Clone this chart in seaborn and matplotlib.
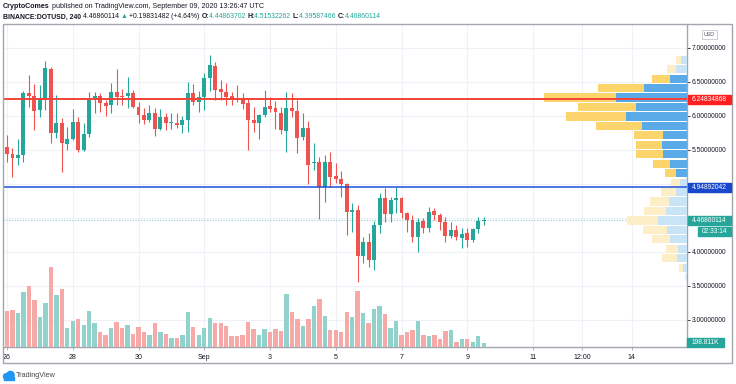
import numpy as np
import pandas as pd
import matplotlib
matplotlib.use("Agg")
import matplotlib.pyplot as plt
from matplotlib.patches import Rectangle, Ellipse
import seaborn as sns

# DOT/USD 4h candles, Aug 26 00:00 -> Sep 9 12:00 UTC
opens = [5.549, 5.441, 5.377, 5.426, 6.333, 6.299, 6.088, 6.250, 6.691, 5.745,
         5.892, 5.588, 5.662, 5.907, 5.500, 5.735, 6.260, 6.299, 6.186, 6.162,
         6.358, 6.299, 6.299, 6.333, 6.137, 6.010, 5.941, 6.049, 5.804, 5.980,
         5.892, 5.902, 5.872, 5.936, 6.343, 6.200, 6.279, 6.554, 6.740, 6.392,
         6.358, 6.294, 6.265, 6.250, 6.186, 5.936, 5.897, 6.015, 6.147, 6.113,
         6.049, 5.784, 6.123, 6.069, 5.696, 5.823, 5.304, 5.319, 4.956, 5.319,
         5.118, 5.068, 4.999, 4.593, 4.618, 3.941, 4.142, 3.882, 4.397, 4.789,
         4.554, 4.765, 4.789, 4.569, 4.471, 4.225, 4.456, 4.348, 4.603, 4.544,
         4.446, 4.235, 4.324, 4.201, 4.275, 4.176, 4.333, 4.449]
highs = [5.721, 5.525, 5.662, 6.368, 6.603, 6.466, 6.456, 6.814, 6.725, 6.309,
         5.966, 5.843, 6.103, 5.990, 5.892, 6.358, 6.358, 6.333, 6.235, 6.480,
         6.686, 6.397, 6.578, 6.382, 6.211, 6.123, 6.162, 6.113, 6.098, 6.039,
         6.039, 6.039, 6.000, 6.495, 6.470, 6.373, 6.637, 6.897, 6.799, 6.529,
         6.480, 6.358, 6.456, 6.333, 6.255, 6.137, 6.029, 6.382, 6.274, 6.225,
         6.137, 6.358, 6.343, 6.235, 6.039, 5.931, 5.598, 5.402, 5.426, 5.475,
         5.314, 5.196, 5.019, 4.716, 4.691, 4.216, 4.275, 4.456, 4.863, 4.936,
         4.814, 4.951, 4.814, 4.593, 4.544, 4.495, 4.495, 4.667, 4.642, 4.569,
         4.520, 4.446, 4.397, 4.348, 4.348, 4.348, 4.520, 4.515]
lows = [5.328, 5.108, 5.279, 5.328, 6.137, 5.794, 5.990, 6.088, 5.598, 5.672,
        5.181, 5.500, 5.647, 5.475, 5.490, 5.696, 6.039, 6.064, 6.000, 6.039,
        6.157, 6.157, 6.113, 6.113, 5.892, 5.882, 5.917, 5.706, 5.794, 5.794,
        5.804, 5.819, 5.745, 5.770, 6.162, 6.064, 6.088, 6.373, 6.235, 6.235,
        6.157, 6.162, 6.211, 6.103, 5.500, 5.770, 5.657, 5.980, 6.064, 5.804,
        5.730, 5.466, 5.990, 5.461, 5.647, 4.995, 5.206, 4.480, 4.740, 4.961,
        5.010, 4.804, 4.250, 4.299, 3.560, 3.833, 3.784, 3.735, 4.275, 4.446,
        4.446, 4.569, 4.495, 4.299, 4.152, 4.005, 4.275, 4.299, 4.471, 4.324,
        4.152, 4.201, 4.176, 4.054, 4.078, 4.152, 4.275, 4.396]
closes = [5.441, 5.377, 5.426, 6.333, 6.299, 6.078, 6.250, 6.701, 5.745, 5.892,
          5.598, 5.662, 5.907, 5.500, 5.735, 6.250, 6.299, 6.186, 6.152, 6.358,
          6.284, 6.279, 6.333, 6.137, 6.015, 5.941, 6.049, 5.804, 5.985, 5.892,
          5.912, 5.872, 5.936, 6.343, 6.201, 6.279, 6.554, 6.750, 6.382, 6.348,
          6.284, 6.255, 6.245, 6.176, 5.941, 5.897, 6.015, 6.137, 6.108, 6.054,
          5.794, 6.123, 6.069, 5.672, 5.823, 5.279, 5.319, 4.956, 5.319, 5.108,
          5.068, 4.999, 4.593, 4.618, 3.941, 4.142, 3.882, 4.397, 4.789, 4.554,
          4.765, 4.789, 4.578, 4.471, 4.225, 4.446, 4.348, 4.593, 4.544, 4.446,
          4.235, 4.324, 4.216, 4.265, 4.176, 4.333, 4.456, 4.469]
volumes_k = [1790, 1839, 1690, 2751, 3032, 2336, 1491, 2187, 3977, 2601,
             2867, 944, 1276, 1375, 1094, 1806, 1193, 746, 580, 944,
             1226, 928, 1077, 646, 994, 746, 580, 1193, 746, 630,
             464, 431, 580, 1740, 978, 580, 961, 1442, 1193, 1193,
             1027, 547, 547, 613, 1226, 911, 597, 878, 729, 895,
             795, 2618, 1723, 1375, 1044, 1392, 2022, 2403, 1524, 845,
             845, 746, 1723, 1475, 2800, 1690, 1193, 1889, 2022, 1640,
             961, 1309, 597, 746, 829, 1292, 580, 530, 580, 398,
             779, 829, 265, 381, 398, 249, 530, 199]

# visible-range volume profile, rows listed top (high price) to bottom
vp_up_vol = [17, 32, 50, 130, 212, 154, 182, 134, 72, 75, 72, 51,
             32, 20, 34, 54, 62, 87, 60, 50, 26, 29, 12, 3]
vp_down_vol = [17, 27, 54, 136, 218, 172, 182, 140, 87, 77, 82, 50,
               35, 29, 43, 57, 68, 92, 71, 55, 36, 46, 12, 4]
value_area_rows = range(2, 13)   # rows (top-based) inside the value area

date_ticks = [0, 12, 24, 36, 48, 60, 72, 84, 96, 105, 114]
date_labels = ["26", "28", "30", "Sep", "3", "5", "7", "9", "11", "12:00", "14"]
price_ticks = [3.0, 3.5, 4.0, 5.5, 6.0, 6.5, 7.0]
grid_prices = [3.0, 3.5, 4.0, 4.5, 5.0, 5.5, 6.0, 6.5, 7.0]

resistance = 6.24834868
support = 4.94892042
last_price = 4.46860114
countdown = "02:33:14"
last_volume = "198.811K"

TEAL = "#26a69a"
RED = "#ef5350"
VOL_UP = "#92d2cc"
VOL_DN = "#f7a9a7"
TEXT = "#131722"
GRID = "#eef1f7"
BORDER = "#a3a6af"
VP_UP = ("#5aaae8", "#c9e3f7")
VP_DN = ("#fbd46c", "#fdeec8")

sns.set_style("white")
plt.rcParams["font.family"] = ["Liberation Sans", "DejaVu Sans"]

W, H = 736, 384
fig = plt.figure(figsize=(W / 100, H / 100), dpi=100)


def fx(px):
    return px / W


def fy(py):
    return 1 - py / H


P_TOP = 7 + 24 / 68
P_BOT = 7 - 299 / 68


def price_py(p):
    return 24 + (P_TOP - p) * 68


ax = fig.add_axes([fx(3), fy(347), fx(687) - fx(3), fy(24) - fy(347)])

df = pd.DataFrame({"open": opens, "high": highs, "low": lows,
                   "close": closes, "volume": volumes_k})
df["idx"] = np.arange(len(df))
df["dir"] = np.where(df["close"] >= df["open"], "up", "down")
colors = np.where(df["dir"] == "up", TEAL, RED)

# grid
for p in grid_prices:
    ax.axhline(p, color=GRID, lw=0.8, zorder=0)
for t in date_ticks:
    ax.axvline(t, color=GRID, lw=0.8, zorder=0)

ax.axhline(last_price, color=TEAL, lw=0.9, alpha=0.45, ls=(0, (1, 1.2)), zorder=1)

# candles
ax.vlines(df["idx"], df["low"], df["high"], colors=colors, lw=0.8, zorder=3)
body_lo = df[["open", "close"]].min(axis=1)
body_h = (df["close"] - df["open"]).abs().clip(lower=0.013)
ax.bar(df["idx"], body_h, bottom=body_lo, width=0.72, color=colors, lw=0, zorder=4)

# volume
ax_v = ax.twinx()
sns.barplot(data=df, x="idx", y="volume", hue="dir",
            palette={"up": VOL_UP, "down": VOL_DN}, native_scale=True,
            dodge=False, width=0.8, legend=False, errorbar=None,
            saturation=1, linewidth=0, ax=ax_v)
ax_v.set_ylim(0, max(volumes_k) * 323 / 80)
ax_v.axis("off")

# volume profile (right side)
ax_p = ax.twiny()
n_rows = len(vp_up_vol)
edges = np.linspace(min(lows), max(highs), n_rows + 1)
centers = ((edges[:-1] + edges[1:]) / 2)[::-1]
row_h = (edges[1] - edges[0]) * 0.86
up_c = [VP_UP[0] if i in value_area_rows else VP_UP[1] for i in range(n_rows)]
dn_c = [VP_DN[0] if i in value_area_rows else VP_DN[1] for i in range(n_rows)]
ax_p.barh(centers, vp_up_vol, height=row_h, left=0, color=up_c, lw=0)
ax_p.barh(centers, vp_down_vol, height=row_h, left=vp_up_vol, color=dn_c, lw=0)
totals = np.array(vp_up_vol) + np.array(vp_down_vol)
ax_p.set_xlim(totals.max() / 0.2095, 0)
ax_p.axhline(resistance, color="#f44336", lw=1.4, zorder=5)
ax_p.axhline(support, color="#1f50d6", lw=1.1, zorder=5)
ax_p.axis("off")

ax.set_ylim(P_BOT, P_TOP)
ax.set_xlim(-0.73, 124.1)

# axes styling
for side in ["left", "top"]:
    ax.spines[side].set_visible(False)
for side in ["right", "bottom"]:
    ax.spines[side].set_color(BORDER)
    ax.spines[side].set_linewidth(1)
ax.yaxis.tick_right()
ax.set_yticks(price_ticks)
ax.set_yticklabels([f"{p:.8f}" for p in price_ticks])
ax.tick_params(axis="y", length=2, width=0.6, color=TEXT, pad=1.5,
               labelsize=4.8, labelcolor=TEXT)
ax.set_xticks(date_ticks)
ax.set_xticklabels(date_labels)
ax.tick_params(axis="x", length=2.5, width=0.6, color=BORDER, pad=2.5,
               labelsize=5, labelcolor=TEXT)
ax.set_xlabel("")
ax.set_ylabel("")

fig.add_artist(Rectangle((fx(3), fy(363)), fx(732) - fx(3), fy(24) - fy(363),
                         transform=fig.transFigure, fill=False,
                         edgecolor=BORDER, lw=1, zorder=5))


def axis_box(yc, text, face, x0=688, x1=731, tx=None):
    fig.add_artist(Rectangle((fx(x0), fy(yc + 4.5)), fx(x1) - fx(x0), 9 / H,
                             transform=fig.transFigure, color=face, zorder=10))
    fig.text(fx(tx if tx else x0 + 3.5), fy(yc), text, color="white",
             fontsize=4.8, va="center", ha="left", zorder=11)


axis_box(price_py(resistance), f"{resistance:.8f}", "#ff1f1f")
axis_box(price_py(support), f"{support:.8f}", "#1848cc")
axis_box(price_py(last_price), f"{last_price:.8f}", TEAL)
axis_box(price_py(last_price) + 11, countdown, TEAL, x0=698, tx=702)
axis_box(342, last_volume, TEAL, x0=687, x1=724, tx=692)

# USD tag
fig.add_artist(Rectangle((fx(702), fy(38.5)), fx(717) - fx(702), 8.5 / H,
                         transform=fig.transFigure, facecolor="white",
                         edgecolor="#c4c6cc", lw=0.6, zorder=10))
fig.text(fx(709.5), fy(34.3), "USD", fontsize=3.8, color="#50535e",
         ha="center", va="center", zorder=11)

# header lines
renderer = fig.canvas.get_renderer()


def write_run(x_px, y_px, parts, size):
    x = x_px
    for txt, col, weight in parts:
        t = fig.text(fx(x), fy(y_px), txt, color=col, fontsize=size,
                     fontweight=weight, va="center", ha="left")
        x += t.get_window_extent(renderer).width


write_run(3, 6, [("CryptoComes", TEXT, "bold"),
                 (" published on TradingView.com, September 09, 2020 13:26:47 UTC", TEXT, "normal")], 5.1)
write_run(3, 17, [("BINANCE:DOTUSD, 240 ", TEXT, "bold"),
                  ("4.46860114 ", TEXT, "normal"),
                  ("\u25b2 ", TEAL, "normal"),
                  ("+0.19831482 (+4.64%) ", TEXT, "normal"),
                  ("O:", TEXT, "bold"), ("4.44863702 ", TEAL, "normal"),
                  ("H:", TEXT, "bold"), ("4.51532262 ", TEAL, "normal"),
                  ("L:", TEXT, "bold"), ("4.39587466 ", TEAL, "normal"),
                  ("C:", TEXT, "bold"), ("4.46860114", TEAL, "normal")], 4.98)

# footer logo
for cx, cy, r in [(6.5, 376.5, 3.0), (10.5, 375.0, 3.6)]:
    fig.add_artist(Ellipse((fx(cx), fy(cy)), 2 * r / W, 2 * r / H,
                           transform=fig.transFigure, color="#2196f3"))
fig.add_artist(Rectangle((fx(4), fy(379.5)), fx(14) - fx(4), 3 / H,
                         transform=fig.transFigure, color="#2196f3"))
fig.text(fx(16), fy(375.5), "TradingView", fontsize=5.2, color="#4a4a4a",
         va="center", ha="left")

fig.savefig("out.png", dpi=100, facecolor="white")
